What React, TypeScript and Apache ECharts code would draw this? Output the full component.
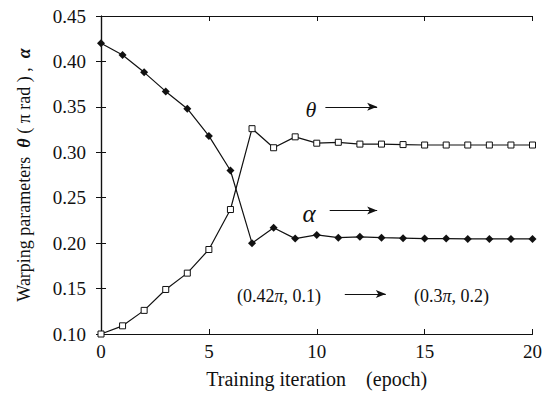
import React, { useEffect, useRef } from "react";
import * as echarts from "echarts";

// Training epochs 0..20
const epochs: number[] = Array.from({ length: 21 }, (_, i) => i);

// Warping angle theta (in units of pi rad) per epoch
const thetaValues: number[] = [
  0.100, 0.109, 0.126, 0.149, 0.167, 0.193, 0.237, 0.326, 0.305, 0.317, 0.310,
  0.311, 0.309, 0.309, 0.3085, 0.308, 0.308, 0.308, 0.308, 0.308, 0.308,
];

// Warping parameter alpha per epoch
const alphaValues: number[] = [
  0.420, 0.407, 0.388, 0.367, 0.348, 0.318, 0.280, 0.200, 0.217, 0.205, 0.209,
  0.206, 0.207, 0.206, 0.2055, 0.205, 0.205, 0.2046, 0.2046, 0.2046, 0.2046,
];

const yTicks: number[] = [0.1, 0.15, 0.2, 0.25, 0.3, 0.35, 0.4, 0.45];
const xTicks: number[] = [0, 5, 10, 15, 20];

// Arrow segments [x1, y1, x2, y2] in data units
const thetaArrow: number[] = [10.4, 0.35, 12.8, 0.35];
const alphaArrow: number[] = [10.6, 0.236, 12.8, 0.236];
const pairArrow: number[] = [11.3, 0.144, 13.2, 0.144];

const FONT = "Liberation Serif";

export default function App() {
  const ref = useRef<HTMLDivElement>(null);

  useEffect(() => {
    if (!ref.current) return;
    const chart = echarts.init(ref.current, undefined, { renderer: "svg" });

    const arrow = (a: number[]) => ({
      type: "line",
      data: [],
      xAxisIndex: 0,
      yAxisIndex: 0,
      silent: true,
      markLine: {
        silent: true,
        symbol: ["none", "arrow"],
        symbolSize: [6, 10],
        label: { show: false },
        lineStyle: { color: "#111", width: 1.2, type: "solid" },
        data: [[{ coord: [a[0], a[1]] }, { coord: [a[2], a[3]] }]],
      },
    });

    const axisCommon = {
      type: "value" as const,
      axisLine: { show: true, lineStyle: { color: "#111", width: 1.2 } },
      splitLine: { show: false },
    };

    const txt = (text: string, x: number, y: number, align: string, size: number, italic = false) => ({
      type: "text",
      x,
      y,
      style: {
        text,
        fontFamily: FONT,
        fontSize: size,
        fontStyle: italic ? "italic" : "normal",
        fill: "#111",
        align,
        verticalAlign: "middle",
        rich: {
          i: { fontFamily: FONT, fontSize: size, fontStyle: "italic", fill: "#111" },
        },
      },
    });

    chart.setOption({
      animation: false,
      backgroundColor: "#fff",
      textStyle: { fontFamily: FONT },
      grid: { left: 101, right: 12, top: 16, bottom: 58 },
      xAxis: [
        {
          ...axisCommon,
          min: 0,
          max: 20,
          interval: 5,
          axisTick: { inside: true, length: 5, lineStyle: { color: "#111" } },
          axisLabel: {
            color: "#111",
            fontFamily: FONT,
            fontSize: 19,
            margin: 8,
            formatter: (v: number) => (xTicks.includes(v) ? String(v) : ""),
          },
          name: "Training iteration    (epoch)",
          nameLocation: "middle",
          nameGap: 35,
          nameTextStyle: { color: "#111", fontFamily: FONT, fontSize: 20 },
        },
        {
          ...axisCommon,
          position: "top",
          min: 0,
          max: 20,
          interval: 5,
          axisTick: { inside: true, length: 5, lineStyle: { color: "#111" } },
          axisLabel: { show: false },
        },
      ],
      yAxis: [
        {
          ...axisCommon,
          min: 0.1,
          max: 0.45,
          interval: 0.05,
          axisTick: { inside: true, length: 5, lineStyle: { color: "#111" } },
          axisLabel: {
            color: "#111",
            fontFamily: FONT,
            fontSize: 19,
            margin: 15,
            formatter: (v: number) => {
              const t = yTicks.find((k) => Math.abs(k - v) < 1e-6);
              return t === undefined ? "" : t.toFixed(2);
            },
          },
          name: "Warping parameters  {i|θ} ( π rad ) ,  {i|α}",
          nameLocation: "middle",
          nameGap: 68,
          nameTextStyle: {
            color: "#111",
            fontFamily: FONT,
            fontSize: 18,
            rich: {
              i: { fontStyle: "italic", fontWeight: "bold", fontFamily: FONT, fontSize: 18, color: "#111" },
            },
          },
        },
        {
          ...axisCommon,
          position: "right",
          min: 0.1,
          max: 0.45,
          interval: 0.05,
          axisTick: { inside: true, length: 5, lineStyle: { color: "#111" } },
          axisLabel: { show: false },
        },
      ],
      series: [
        {
          name: "theta",
          type: "line",
          data: epochs.map((e, i) => [e, thetaValues[i]]),
          symbol: "rect",
          symbolSize: 6,
          showAllSymbol: true,
          lineStyle: { color: "#111", width: 1.2 },
          itemStyle: { color: "#fff", borderColor: "#111", borderWidth: 1 },
          z: 3,
        },
        {
          name: "alpha",
          type: "line",
          data: epochs.map((e, i) => [e, alphaValues[i]]),
          symbol: "diamond",
          symbolSize: 8,
          showAllSymbol: true,
          lineStyle: { color: "#111", width: 1.2 },
          itemStyle: { color: "#111", borderColor: "#111", borderWidth: 0 },
          z: 3,
        },
        arrow(thetaArrow),
        arrow(alphaArrow),
        arrow(pairArrow),
      ],
      graphic: [
        txt("θ", 311, 109, "center", 22, true),
        txt("α", 309, 213, "center", 25, true),
        txt("(0.42{i|π}, 0.1)", 237, 296, "left", 18),
        txt("(0.3{i|π}, 0.2)", 489, 296, "right", 18),
      ],
    });

    return () => chart.dispose();
  }, []);

  return (
    <div
      ref={ref}
      style={{ position: "fixed", left: 0, top: 0, width: 545, height: 394 }}
    />
  );
}
